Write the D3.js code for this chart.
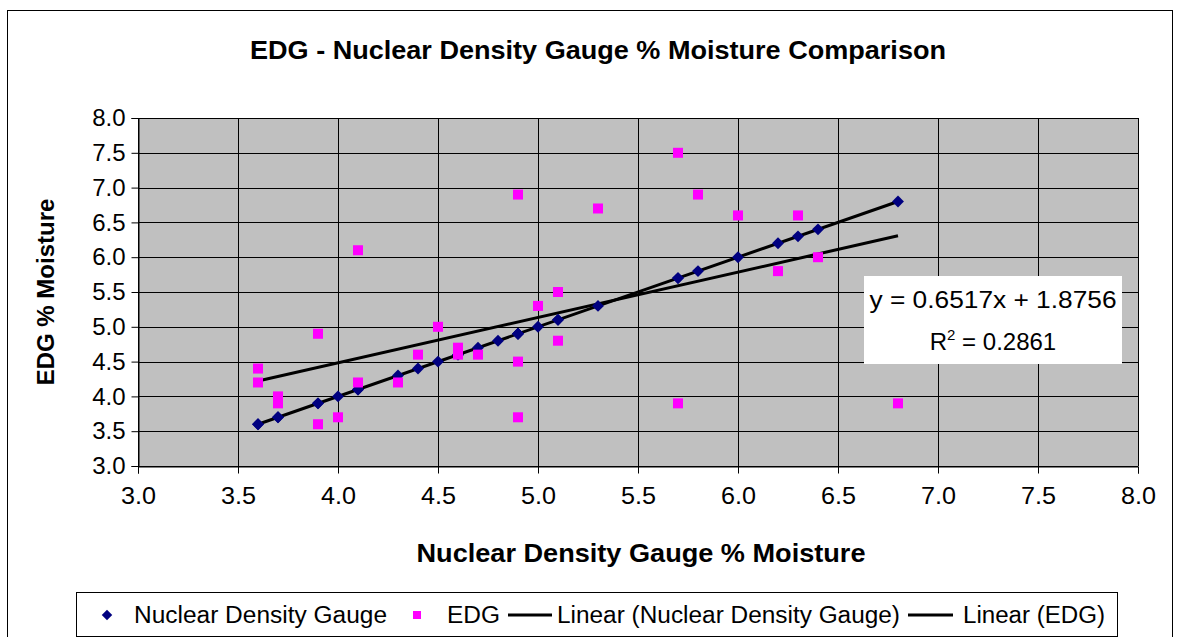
<!DOCTYPE html>
<html>
<head>
<meta charset="utf-8">
<script src="https://cdn.jsdelivr.net/npm/d3@7"></script>
<style>
  body { margin: 0; background: #fff; }
  svg { display: block; font-family: 'Liberation Sans', Arial, sans-serif; }
</style>
</head>
<body>
<div class="graph-container"></div>
<script>
// data (x = nuclear gauge, y = EDG)
const ndgValues = [3.6, 3.6, 3.7, 3.7, 3.9, 3.9, 4.0, 4.1, 4.1, 4.3, 4.4, 4.5, 4.6, 4.6, 4.7, 4.8,
    4.9, 4.9, 4.9, 5.0, 5.1, 5.1, 5.3, 5.7, 5.7, 5.8, 6.0, 6.2, 6.3, 6.4, 6.8];
const edgValues = [4.4, 4.2, 4.0, 3.9, 4.9, 3.6, 3.7, 6.1, 4.2, 4.2, 4.6, 5.0, 4.7, 4.6, 4.6, null,
    6.9, 4.5, 3.7, 5.3, 5.5, 4.8, 6.7, 7.5, 3.9, 6.9, 6.6, 5.8, 6.6, 6.0, 3.9];
const tickValues = [3.0, 3.5, 4.0, 4.5, 5.0, 5.5, 6.0, 6.5, 7.0, 7.5, 8.0];
// trendline coefficients (NDG vs itself is y = x, EDG from label)
const ndgTrend = { slope: 1, intercept: 0 };
const edgTrend = { slope: 0.6517, intercept: 1.8756 };
const trendLabel = ['y = 0.6517x + 1.8756', '0.2861'];
const legendItems = ['Nuclear Density Gauge', 'EDG', 'Linear (Nuclear Density Gauge)', 'Linear (EDG)'];

const [width, height] = [1178, 637];
const plot = { left: 138, right: 1138, top: 118, bottom: 466 };

const x = d3.scaleLinear().domain([3, 8]).range([plot.left, plot.right]);
const y = d3.scaleLinear().domain([3, 8]).range([plot.bottom, plot.top]);

const svg = d3.select('div.graph-container')
    .append('svg')
    .attr('width', width)
    .attr('height', height);

// chart border
svg.append('rect')
    .attr('x', 7.5).attr('y', 10.5)
    .attr('width', 1165).attr('height', 640)
    .attr('fill', '#fff').attr('stroke', '#000').attr('stroke-width', 1);

svg.append('text')
    .attr('x', 598).attr('y', 59)
    .attr('text-anchor', 'middle')
    .attr('font-size', 25).attr('font-weight', 'bold')
    .attr('textLength', 696).attr('lengthAdjust', 'spacingAndGlyphs')
    .text('EDG - Nuclear Density Gauge %  Moisture Comparison');

// plot area
svg.append('rect')
    .attr('x', plot.left).attr('y', plot.top)
    .attr('width', plot.right - plot.left).attr('height', plot.bottom - plot.top)
    .attr('fill', '#c0c0c0');

// gridlines
svg.append('g')
    .selectAll('line.h')
    .data(tickValues)
    .enter()
    .append('line')
    .attr('x1', plot.left).attr('x2', plot.right)
    .attr('y1', d => Math.round(y(d)) + 0.5).attr('y2', d => Math.round(y(d)) + 0.5)
    .attr('stroke', '#000').attr('stroke-width', 1);
svg.append('g')
    .selectAll('line.v')
    .data(tickValues)
    .enter()
    .append('line')
    .attr('y1', plot.top).attr('y2', plot.bottom)
    .attr('x1', d => Math.round(x(d)) + 0.5).attr('x2', d => Math.round(x(d)) + 0.5)
    .attr('stroke', '#000').attr('stroke-width', 1);

// axes
const xAxis = svg.append('g')
    .attr('transform', `translate(0,${plot.bottom + 0.5})`)
    .call(d3.axisBottom(x).tickValues(tickValues).tickFormat(d3.format('.1f')).tickSizeOuter(0).tickSize(7).tickPadding(13));
const yAxis = svg.append('g')
    .attr('transform', `translate(${plot.left + 0.5},0)`)
    .call(d3.axisLeft(y).tickValues(tickValues).tickFormat(d3.format('.1f')).tickSizeOuter(0).tickSize(7).tickPadding(6));
[xAxis, yAxis].forEach(ax => {
    ax.selectAll('text').attr('font-size', 24).attr('fill', '#000')
        .attr('font-family', "'Liberation Sans', Arial, sans-serif");
    ax.selectAll('line, path').attr('stroke', '#000');
});
xAxis.selectAll('text').attr('textLength', 35).attr('lengthAdjust', 'spacingAndGlyphs');

svg.append('text')
    .attr('x', 641).attr('y', 562)
    .attr('text-anchor', 'middle')
    .attr('font-size', 25).attr('font-weight', 'bold')
    .attr('textLength', 449).attr('lengthAdjust', 'spacingAndGlyphs')
    .text('Nuclear Density Gauge % Moisture');

svg.append('text')
    .attr('transform', 'translate(54,292) rotate(-90)')
    .attr('text-anchor', 'middle')
    .attr('font-size', 24).attr('font-weight', 'bold')
    .text('EDG % Moisture');

// trendlines
const [xMin, xMax] = d3.extent(ndgValues);
const lineGen = d3.line().x(d => x(d[0])).y(d => y(d[1]));
[ndgTrend, edgTrend].forEach(t => {
    svg.append('path')
        .datum([xMin, xMax].map(v => [v, t.slope * v + t.intercept]))
        .attr('d', lineGen)
        .attr('fill', 'none').attr('stroke', '#000').attr('stroke-width', 3);
});

// series markers
const diamond = d3.symbol().type(d3.symbolDiamond2).size(90);
svg.append('g')
    .selectAll('path')
    .data(ndgValues)
    .enter()
    .append('path')
    .attr('d', diamond)
    .attr('transform', d => `translate(${x(d)},${y(d)})`)
    .attr('fill', '#000080');

svg.append('g')
    .selectAll('rect')
    .data(ndgValues.map((v, i) => [v, edgValues[i]]).filter(d => d[1] !== null))
    .enter()
    .append('rect')
    .attr('x', d => x(d[0]) - 5).attr('y', d => y(d[1]) - 5)
    .attr('width', 10).attr('height', 10)
    .attr('fill', '#ff00ff');

// trendline label
svg.append('rect')
    .attr('x', 864).attr('y', 276).attr('width', 258).attr('height', 88)
    .attr('fill', '#fff');
svg.append('text')
    .attr('x', 993).attr('y', 308)
    .attr('text-anchor', 'middle').attr('font-size', 24)
    .attr('textLength', 247).attr('lengthAdjust', 'spacingAndGlyphs')
    .text(trendLabel[0]);
const r2 = svg.append('text')
    .attr('x', 993).attr('y', 350)
    .attr('text-anchor', 'middle').attr('font-size', 24);
r2.append('tspan').text('R');
r2.append('tspan').attr('font-size', 15).attr('dy', -10).text('2');
r2.append('tspan').attr('dy', 10).text(' = ' + trendLabel[1]);

// legend
const legend = svg.append('g');
legend.append('rect')
    .attr('x', 76.5).attr('y', 592.5).attr('width', 1041).attr('height', 44)
    .attr('fill', '#fff').attr('stroke', '#000');
const lgY = 615;
legend.append('path').attr('d', d3.symbol().type(d3.symbolDiamond2).size(70))
    .attr('transform', `translate(107,${lgY})`).attr('fill', '#000080');
legend.append('rect').attr('x', 413).attr('y', lgY - 4).attr('width', 8).attr('height', 8).attr('fill', '#ff00ff');
legend.append('line').attr('x1', 508).attr('x2', 552).attr('y1', lgY).attr('y2', lgY).attr('stroke', '#000').attr('stroke-width', 3);
legend.append('line').attr('x1', 908).attr('x2', 953).attr('y1', lgY).attr('y2', lgY).attr('stroke', '#000').attr('stroke-width', 3);
const lgText = [
    { x: 134, len: 253 },
    { x: 447, len: 53 },
    { x: 557, len: 343 },
    { x: 963, len: 142 }
];
legend.selectAll('text.lg')
    .data(legendItems)
    .enter()
    .append('text')
    .attr('x', (d, i) => lgText[i].x).attr('y', lgY + 8)
    .attr('font-size', 23)
    .attr('textLength', (d, i) => lgText[i].len).attr('lengthAdjust', 'spacingAndGlyphs')
    .text(d => d);
</script>
</body>
</html>
